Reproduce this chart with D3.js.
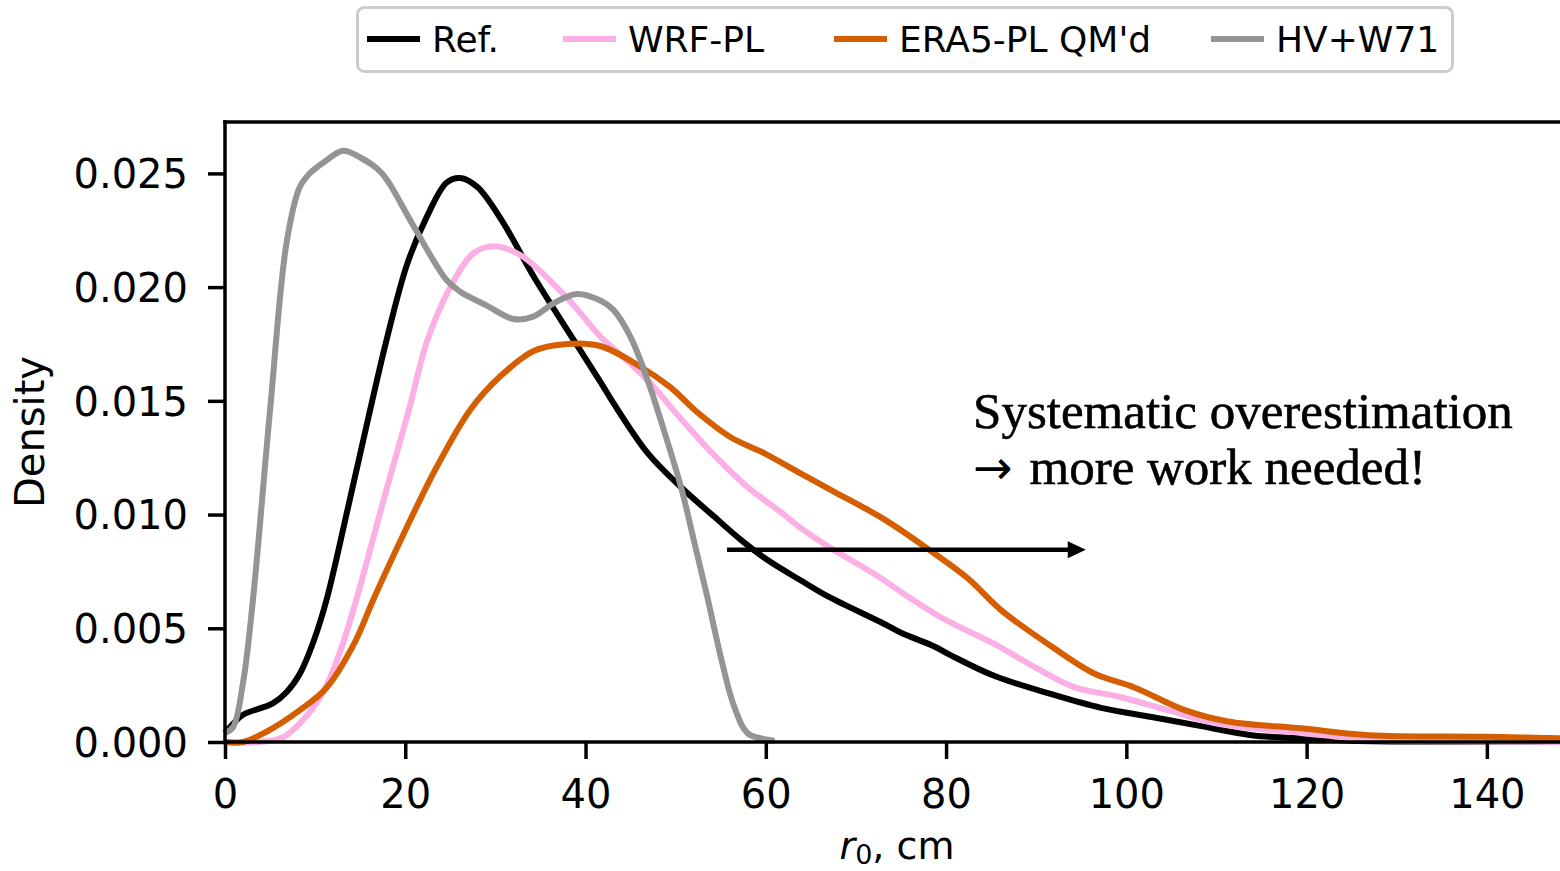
<!DOCTYPE html>
<html>
<head>
<meta charset="utf-8">
<script src="https://cdn.jsdelivr.net/npm/d3@7"></script>
<style>
  html, body { margin: 0; padding: 0; background: #fff; }
  svg { display: block; }
</style>
</head>
<body>
<svg id="chart" width="1560" height="871"></svg>
<script>
// ---------- data ----------
const seriesNames = ["Ref.", "WRF-PL", "ERA5-PL QM'd", "HV+W71"];
const seriesColors = ["#000000", "#fbafe4", "#d55e00", "#949494"];

const refX = [0, 0.9, 2, 5.3, 6.85, 8.3, 9.8, 11.3, 13.7, 16.1, 18, 20.2, 22.4, 24.6, 26.1, 28, 30.6, 34.2, 38, 41.7, 43.1, 46.9, 50.6, 54.3, 57.2, 60.2, 63.9, 66.9, 73.1, 75, 78.7, 80.6, 85.4, 91.7, 97.2, 102.8, 108.3, 113.9, 119.4, 125, 132, 140, 150];
const refY = [0.0004, 0.0008, 0.0012, 0.0017, 0.0022, 0.0030, 0.0044, 0.0063, 0.0104, 0.0146, 0.0178, 0.0210, 0.0231, 0.0246, 0.0248, 0.0244, 0.0230, 0.0205, 0.0181, 0.0158, 0.0149, 0.0127, 0.0112, 0.0099, 0.0089, 0.0080, 0.0071, 0.0064, 0.0052, 0.0048, 0.0042, 0.0038, 0.0029, 0.0021, 0.0015, 0.0011, 0.0007, 0.0003, 0.00016, 0.00006, 0.00002, 0.00001, 0.0];

const wrfX = [0, 4, 6.4, 8.5, 10.9, 12.8, 14.6, 17.5, 20.4, 22.4, 25, 27.6, 29.8, 32.8, 38, 41.7, 43.1, 46.9, 50.6, 54.3, 58, 61.7, 63.9, 66.9, 72.4, 75, 79.8, 85.4, 89.8, 94.3, 99.1, 104.6, 110.2, 119.4, 127, 135, 150];
const wrfY = [0, 0, 0.0002, 0.0009, 0.0022, 0.0040, 0.0063, 0.0105, 0.0146, 0.0176, 0.0200, 0.0215, 0.0218, 0.0214, 0.0195, 0.0178, 0.0173, 0.0159, 0.0142, 0.0126, 0.0112, 0.0101, 0.0094, 0.0086, 0.0073, 0.0066, 0.0054, 0.0043, 0.0033, 0.0024, 0.0020, 0.0014, 0.0008, 0.0004, 0.0001, 0.00003, 0.0];

const eraX = [0, 2, 4.6, 8.3, 11.3, 14.3, 16.5, 20, 23.5, 27.2, 30.6, 34.3, 38, 41.7, 46.1, 49.4, 52.4, 56.1, 59.8, 63.9, 67.6, 73.1, 78.3, 82.4, 86.1, 91.7, 96.5, 100.9, 106.5, 111.3, 119.4, 126.9, 140.2, 150];
const eraY = [0, 0, 0.00045, 0.0014, 0.0024, 0.0043, 0.0063, 0.0093, 0.0121, 0.0146, 0.0161, 0.0172, 0.0175, 0.0174, 0.0165, 0.0156, 0.0145, 0.0134, 0.0127, 0.0118, 0.0110, 0.0098, 0.0084, 0.0072, 0.0058, 0.0042, 0.0030, 0.0024, 0.0014, 0.0009, 0.0006, 0.0003, 0.00023, 0.00015];

const hvX = [0, 0.9, 2, 3.1, 5, 6.85, 8.3, 9.4, 11, 13.1, 15, 16.9, 18, 20.9, 24.6, 26.1, 29, 32, 34.2, 36.5, 39.1, 41.7, 43.1, 45, 46.9, 48.7, 50.6, 52, 53.5, 55, 56.5, 58, 60.2, 61];
const hvY = [0.0004, 0.00066, 0.0026, 0.00625, 0.0146, 0.0220, 0.0244, 0.0250, 0.0255, 0.0260, 0.0257, 0.0252, 0.0247, 0.0227, 0.0203, 0.0198, 0.0192, 0.0186, 0.0187, 0.0193, 0.0197, 0.0194, 0.0190, 0.0178, 0.0159, 0.0137, 0.0112, 0.0089, 0.0064, 0.00375, 0.00155, 0.00038, 0.0001, 0.00005];

const xTicks = [0, 20, 40, 60, 80, 100, 120, 140];
const yTicks = [0, 0.005, 0.010, 0.015, 0.020, 0.025];
const xDomain = [0, 150];
const yDomain = [0, 0.02726];

const annotationArrowGlyph = "\u2192";
const annotationLines = ["Systematic overestimation", "more work needed!"];
const arrowFrom = [55.7, 0.00845];
const arrowTo = [95.5, 0.00845];
const annotationAnchor = [83, 0.0138];

// ---------- layout ----------
const svg = d3.select("#chart");
const L = 225, R = 1577, T = 122, B = 742;

const x = d3.scaleLinear().domain(xDomain).range([L, R]);
const y = d3.scaleLinear().domain(yDomain).range([B, T]);

const series = [
  {name: seriesNames[0], color: seriesColors[0], xs: refX, ys: refY},
  {name: seriesNames[1], color: seriesColors[1], xs: wrfX, ys: wrfY},
  {name: seriesNames[2], color: seriesColors[2], xs: eraX, ys: eraY},
  {name: seriesNames[3], color: seriesColors[3], xs: hvX, ys: hvY}
];

const line = d3.line().x(d => x(d[0])).y(d => y(d[1])).curve(d3.curveCatmullRom.alpha(0.5));

series.forEach(s => {
  const pts = s.xs.map((v, k) => [v, s.ys[k]]);
  svg.append("path")
    .attr("d", line(pts))
    .attr("fill", "none")
    .attr("stroke", s.color)
    .attr("stroke-width", 6)
    .attr("stroke-linejoin", "round")
    .attr("stroke-linecap", "butt");
});

// axes
const fontSans = "'DejaVu Sans', sans-serif";
const xAxis = d3.axisBottom(x).tickValues(xTicks).tickSize(17).tickPadding(21).tickFormat(d3.format("d"));
const yAxis = d3.axisLeft(y).tickValues(yTicks).tickSize(17).tickPadding(20).tickFormat(d3.format(".3f"));

const gx = svg.append("g").attr("transform", `translate(0,${B})`).call(xAxis);
const gy = svg.append("g").attr("transform", `translate(${L},0)`).call(yAxis);
[gx, gy].forEach(g => {
  g.select(".domain").remove();
  g.selectAll(".tick line").attr("stroke", "#000").attr("stroke-width", 3.5);
  g.selectAll(".tick text").attr("fill", "#000").style("font-family", fontSans).style("font-size", "40px");
});
gx.selectAll(".tick text").attr("dy", "0.71em");
gy.selectAll(".tick text").attr("dy", "0.36em");

// spines
const sw = 3.5;
svg.append("line").attr("x1", L).attr("x2", L).attr("y1", T - sw / 2).attr("y2", B + sw / 2).attr("stroke", "#000").attr("stroke-width", sw);
svg.append("line").attr("x1", L - sw / 2).attr("x2", R + sw / 2).attr("y1", B).attr("y2", B).attr("stroke", "#000").attr("stroke-width", sw);
svg.append("line").attr("x1", L - sw / 2).attr("x2", R + sw / 2).attr("y1", T).attr("y2", T).attr("stroke", "#000").attr("stroke-width", sw);
svg.append("line").attr("x1", R).attr("x2", R).attr("y1", T - sw / 2).attr("y2", B + sw / 2).attr("stroke", "#000").attr("stroke-width", sw);

// axis labels
svg.append("text")
  .attr("transform", `translate(44,${(T + B) / 2}) rotate(-90)`)
  .attr("text-anchor", "middle")
  .style("font-family", fontSans).style("font-size", "40px")
  .text("Density");

const xl = svg.append("text")
  .attr("x", (L + R) / 2 - 4).attr("y", 859)
  .attr("text-anchor", "middle")
  .style("font-family", fontSans).style("font-size", "38px");
xl.append("tspan").style("font-style", "italic").text("r");
xl.append("tspan").attr("dy", 5).style("font-size", "27px").text("0");
xl.append("tspan").attr("dy", -5).text(", cm");

// annotation arrow
const ax1 = x(arrowFrom[0]), ay = y(arrowFrom[1]), ax2 = x(arrowTo[0]);
svg.append("line").attr("x1", ax1).attr("x2", ax2 - 14).attr("y1", ay).attr("y2", ay)
  .attr("stroke", "#000").attr("stroke-width", 4.5);
svg.append("path")
  .attr("d", `M${ax2},${ay} L${ax2 - 18},${ay - 8.5} L${ax2 - 18},${ay + 8.5} Z`)
  .attr("fill", "#000");

// annotation text
const tx0 = x(annotationAnchor[0]), ty0 = y(annotationAnchor[1]);
const serif = "'Liberation Serif', 'DejaVu Serif', serif";
svg.append("text")
  .attr("x", tx0).attr("y", ty0)
  .style("font-family", serif).style("font-size", "51px")
  .attr("fill", "#000").attr("stroke", "#000").attr("stroke-width", 0.6)
  .text(annotationLines[0]);
const t2 = svg.append("text")
  .attr("x", tx0).attr("y", ty0 + 56)
  .attr("fill", "#000");
t2.append("tspan").style("font-family", fontSans).style("font-size", "47px").text(annotationArrowGlyph);
t2.append("tspan").attr("dx", 17).style("font-family", serif).style("font-size", "51px")
  .attr("stroke", "#000").attr("stroke-width", 0.6).text(annotationLines[1]);

// legend
const lg = svg.append("g");
lg.append("rect").attr("x", 357.5).attr("y", 7.5).attr("width", 1095).attr("height", 64)
  .attr("rx", 7).attr("fill", "#fff").attr("stroke", "#cccccc").attr("stroke-width", 3);
const legendTextX = [432, 628, 899, 1276];
series.forEach((s, i) => {
  const tx = legendTextX[i];
  lg.append("line").attr("x1", tx - 65).attr("x2", tx - 12).attr("y1", 39).attr("y2", 39)
    .attr("stroke", s.color).attr("stroke-width", 6);
  lg.append("text").attr("x", tx).attr("y", 52)
    .style("font-family", fontSans).style("font-size", "36px").text(s.name);
});
</script>
</body>
</html>
